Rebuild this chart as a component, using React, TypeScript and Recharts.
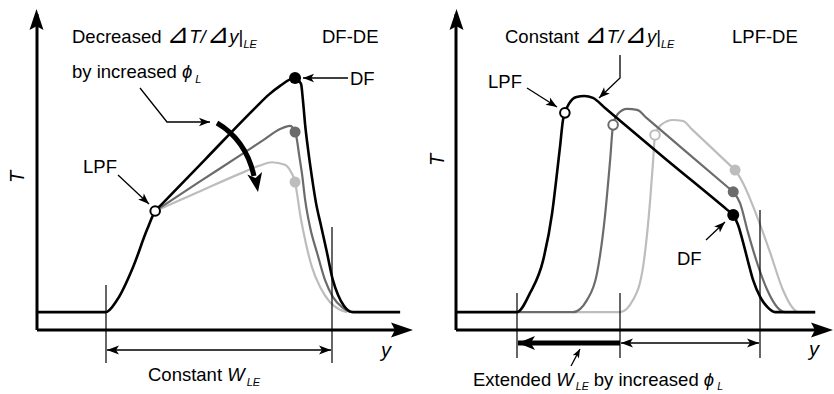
import React from "react";
import { ComposedChart, Line, ReferenceLine, Scatter, XAxis, YAxis } from "recharts";

// T(y) profiles, [y, T] pairs in relative units
const dfBase = [
  [0, 5.5], [18.4, 5.5], [21.4, 9.2], [25.7, 19.4], [29.4, 30.8], [31.6, 36.6],
  [33.2, 38.5], [45.0, 52.5], [58.5, 68.5], [62.0, 72.4], [65.0, 75.1], [69.0, 77.5], [70.6, 75.7],
  [71.1, 70.8], [71.7, 63.1], [72.5, 55.4], [73.5, 47.1], [74.6, 39.1], [75.9, 32.3],
  [77.5, 24.0], [79.1, 15.4], [80.5, 10.8], [82.1, 7.4], [84.5, 5.5], [97.1, 5.5],
];
const dfMid = [
  [31.6, 36.6], [43.6, 45.7], [54.3, 53.7], [61.0, 58.8], [65.0, 61.8], [67.6, 62.8],
  [69.0, 61.2], [69.5, 58.5], [70.1, 53.8], [70.9, 47.7], [71.7, 40.0], [73.0, 31.7],
  [74.9, 23.7], [77.0, 15.4], [79.1, 10.2], [81.8, 6.8], [83.7, 5.5],
];
const dfHigh = [
  [31.6, 36.6], [43.6, 42.7], [54.3, 48.1], [59.6, 50.6], [62.8, 51.6], [66.3, 50.8],
  [67.9, 48.6], [69.0, 45.5], [69.5, 42.2], [70.3, 36.0], [71.7, 27.7], [73.5, 19.4],
  [75.7, 13.2], [78.3, 8.6], [81.0, 6.2], [82.9, 5.5],
];

const lpfBase = [
  [0, 5.5], [16.3, 5.5], [19.8, 11.4], [23.3, 21.5], [25.7, 36.0], [27.0, 48.3],
  [27.8, 56.3], [28.6, 64.6], [29.1, 66.8], [30.3, 69.8], [32.2, 71.7], [34.3, 72.0],
  [36.6, 71.4], [40.0, 68.1], [55.3, 53.3], [72.5, 36.95], [74.1, 35.4], [75.4, 32.3],
  [76.7, 27.1], [78.1, 20.9], [79.4, 15.4], [81.3, 10.2], [83.2, 7.1], [85.3, 5.5], [96.0, 5.5],
];
const lpfMid = [
  [16.3, 5.5], [31.3, 5.5], [35.0, 9.2], [37.7, 17.5], [39.8, 34.8], [41.2, 52.3],
  [42.0, 63.1], [43.3, 66.5], [45.7, 68.0], [48.4, 67.7], [51.0, 65.15], [61.0, 55.35],
  [72.5, 44.07], [74.1, 42.5], [75.9, 39.1], [78.1, 29.8], [80.5, 20.6], [83.2, 12.3],
  [85.8, 7.1], [88.0, 5.5], [96.0, 5.5],
];
const lpfHigh = [
  [31.3, 5.5], [43.9, 5.5], [47.3, 9.2], [50.0, 19.4], [51.9, 40.0], [52.7, 52.3],
  [53.2, 60.0], [54.8, 63.1], [58.0, 64.6], [60.7, 64.3], [63.0, 61.8], [73.0, 50.94],
  [74.6, 49.2], [76.7, 45.2], [80.5, 34.8], [84.0, 23.7], [87.4, 12.3], [89.8, 7.1],
  [91.4, 5.5], [96.0, 5.5],
];

// flame points: [series, y, T]
const dfLpfPoints: [string, number, number][] = [["base", 31.6, 36.6]];
const dfDfPoints: [string, number, number][] = [
  ["high", 69.0, 45.5], ["mid", 69.0, 60.9], ["base", 69.0, 77.5],
];
const lpfLpfPoints: [string, number, number][] = [
  ["high", 53.2, 60.0], ["mid", 42.0, 63.1], ["base", 29.1, 66.8],
];
const lpfDfPoints: [string, number, number][] = [
  ["high", 74.6, 49.2], ["mid", 74.1, 42.5], ["base", 74.1, 35.4],
];

const colors: Record<string, string> = { base: "#000000", mid: "#6b6b6b", high: "#bdbdbd" };
const widths: Record<string, number> = { base: 2.6, mid: 2.2, high: 2.2 };
const FONT = "'Liberation Sans', Arial, sans-serif";

const toRows = (a: number[][]) => a.map(([u, t]) => ({ u, t }));
const toMarks = (a: [string, number, number][]) => a.map(([s, u, t]) => ({ s, u, t }));

const openDot = (p: any) => (
  <circle cx={p.cx} cy={p.cy} r={4.8} fill="#fff" stroke={colors[p.payload.s]} strokeWidth={2} />
);
const fullDot = (p: any) => (
  <circle cx={p.cx} cy={p.cy} r={p.payload.s === "base" ? 6 : 5.5} fill={colors[p.payload.s]} />
);

function Panel(props: {
  series: { key: string; rows: number[][] }[];
  lpf: [string, number, number][];
  df: [string, number, number][];
  margin: { top: number; right: number; bottom: number; left: number };
  xMax: number;
}) {
  return (
    <ComposedChart width={417} height={394} margin={props.margin}>
      <XAxis type="number" dataKey="u" domain={[0, props.xMax]} hide allowDataOverflow />
      <YAxis type="number" dataKey="t" domain={[0, 97.2]} hide allowDataOverflow />
      <ReferenceLine x={0} stroke="#000" strokeWidth={3} />
      <ReferenceLine y={0} stroke="#000" strokeWidth={3} />
      {props.series.map((s) => (
        <Line
          key={s.key}
          data={toRows(s.rows)}
          dataKey="t"
          type="monotone"
          stroke={colors[s.key]}
          strokeWidth={widths[s.key]}
          dot={false}
          activeDot={false}
          isAnimationActive={false}
        />
      ))}
      <Scatter data={toMarks(props.df)} dataKey="t" shape={fullDot} isAnimationActive={false} />
      <Scatter data={toMarks(props.lpf)} dataKey="t" shape={openDot} isAnimationActive={false} />
    </ComposedChart>
  );
}

// stealth arrowhead polygon
function head(x: number, y: number, dx: number, dy: number, len: number, half: number, notch = 0.75) {
  const n = Math.hypot(dx, dy);
  const ux = dx / n, uy = dy / n;
  const px = -uy, py = ux;
  const bx = x - ux * len, by = y - uy * len;
  const nx = x - ux * len * notch, ny = y - uy * len * notch;
  return `${x},${y} ${bx + px * half},${by + py * half} ${nx},${ny} ${bx - px * half},${by - py * half}`;
}

function Arrow(props: { pts: number[][]; w?: number; len?: number; half?: number; both?: boolean }) {
  const { pts, w = 1.3, len = 11, half = 4.2, both } = props;
  const a = pts[pts.length - 2], b = pts[pts.length - 1];
  const line = pts.map((p) => p.join(",")).join(" ");
  return (
    <g>
      <polyline points={line} fill="none" stroke="#000" strokeWidth={w} />
      <polygon points={head(b[0], b[1], b[0] - a[0], b[1] - a[1], len, half)} fill="#000" />
      {both && <polygon points={head(pts[0][0], pts[0][1], pts[0][0] - pts[1][0], pts[0][1] - pts[1][1], len, half)} fill="#000" />}
    </g>
  );
}

const DELTA = { fontFamily: "'DejaVu Sans', sans-serif", fontSize: 27 };

const Grad = ({ x, y, lead }: { x: number; y: number; lead: string }) => (
  <text x={x} y={y} fontSize={18.5} fontFamily={FONT}>
    {lead}
    <tspan {...DELTA}>⊿</tspan>
    <tspan fontStyle="italic">T/</tspan>
    <tspan {...DELTA} dx={1}>⊿</tspan>
    <tspan fontStyle="italic">y</tspan>
    <tspan>|</tspan>
    <tspan fontStyle="italic" fontSize={11} dy={5}>LE</tspan>
  </text>
);

function Notes() {
  return (
    <svg width={834} height={394} style={{ position: "absolute", left: 0, top: 0 }}>
      {/* axis arrowheads */}
      <polygon points={head(36.5, 9, 0, -1, 21, 7, 0.82)} fill="#000" />
      <polygon points={head(413, 330, 1, 0, 22, 7.5, 0.82)} fill="#000" />
      <polygon points={head(456.5, 9, 0, -1, 21, 7, 0.82)} fill="#000" />
      <polygon points={head(833, 330, 1, 0, 22, 7.5, 0.82)} fill="#000" />

      {/* left panel */}
      <text x={0} y={0} transform="translate(24,183) rotate(-90)" fontSize={20} fontStyle="italic" fontFamily={FONT}>T</text>
      <text x={381} y={357} fontSize={20} fontStyle="italic" fontFamily={FONT}>y</text>
      <Grad x={72} y={43} lead="Decreased " />
      <text x={72} y={78} fontSize={18.5} fontFamily={FONT}>
        by increased <tspan fontStyle="italic">ϕ</tspan>
        <tspan fontStyle="italic" fontSize={11} dx={3} dy={5}>L</tspan>
      </text>
      <text x={322} y={43} fontSize={18.5} fontFamily={FONT}>DF-DE</text>
      <text x={350} y={85} fontSize={18.5} fontFamily={FONT}>DF</text>
      <text x={83} y={173} fontSize={18.5} fontFamily={FONT}>LPF</text>
      <Arrow pts={[[348, 78], [303, 78]]} />
      <Arrow pts={[[118, 175], [149, 204]]} />
      <Arrow pts={[[140, 88], [167, 122], [210, 122]]} />
      <path d="M217,123 Q246,140 254,176" fill="none" stroke="#000" strokeWidth={5} />
      <polygon points={head(258, 192, 3, 17, 19, 7.5)} fill="#000" />
      <line x1={106} y1={285} x2={106} y2={363} stroke="#000" strokeWidth={1.2} />
      <line x1={332} y1={227} x2={332} y2={363} stroke="#000" strokeWidth={1.2} />
      <Arrow pts={[[107, 350], [331, 350]]} both len={12} half={4.5} />
      <text x={148} y={381} fontSize={18.5} fontFamily={FONT}>
        Constant <tspan fontStyle="italic">W</tspan>
        <tspan fontStyle="italic" fontSize={11} dx={2} dy={5}>LE</tspan>
      </text>

      {/* right panel */}
      <text x={0} y={0} transform="translate(444,166) rotate(-90)" fontSize={20} fontStyle="italic" fontFamily={FONT}>T</text>
      <text x={809} y={356} fontSize={20} fontStyle="italic" fontFamily={FONT}>y</text>
      <Grad x={505} y={43} lead="Constant " />
      <text x={732} y={43} fontSize={18.5} fontFamily={FONT}>LPF-DE</text>
      <text x={488} y={88} fontSize={18.5} fontFamily={FONT}>LPF</text>
      <text x={677} y={265} fontSize={18.5} fontFamily={FONT}>DF</text>
      <Arrow pts={[[527, 88], [557, 107]]} />
      <Arrow pts={[[620, 55], [620, 78], [599, 98]]} />
      <Arrow pts={[[706, 240], [725, 222]]} />
      <line x1={517} y1={293} x2={517} y2={358} stroke="#000" strokeWidth={1.2} />
      <line x1={620} y1={293} x2={620} y2={358} stroke="#000" strokeWidth={1.2} />
      <line x1={760} y1={210} x2={760} y2={358} stroke="#000" strokeWidth={1.2} />
      <Arrow pts={[[620, 343], [518, 343]]} w={5} len={17} half={7} />
      <Arrow pts={[[621, 343], [759, 343]]} both len={12} half={4.5} />
      <Arrow pts={[[571, 366], [580, 349]]} len={9} half={3.5} />
      <text x={473} y={386} fontSize={18.5} fontFamily={FONT}>
        Extended <tspan fontStyle="italic">W</tspan>
        <tspan fontStyle="italic" fontSize={10.5} dx={2} dy={4}>LE</tspan>
        <tspan dy={-4}> by increased </tspan>
        <tspan fontStyle="italic">ϕ</tspan>
        <tspan fontStyle="italic" fontSize={10.5} dx={3} dy={4}>L</tspan>
      </text>
    </svg>
  );
}

export default function App() {
  return (
    <div style={{ position: "absolute", left: 0, top: 0, width: 834, height: 394, background: "#fff", overflow: "hidden" }}>
      <div style={{ position: "absolute", left: 0, top: 0 }}>
        <Panel
          series={[
            { key: "high", rows: dfHigh },
            { key: "mid", rows: dfMid },
            { key: "base", rows: dfBase },
          ]}
          lpf={dfLpfPoints}
          df={dfDfPoints}
          margin={{ top: 14, right: 12, bottom: 64, left: 37 }}
          xMax={98.4}
        />
      </div>
      <div style={{ position: "absolute", left: 417, top: 0 }}>
        <Panel
          series={[
            { key: "high", rows: lpfHigh },
            { key: "mid", rows: lpfMid },
            { key: "base", rows: lpfBase },
          ]}
          lpf={lpfLpfPoints}
          df={lpfDfPoints}
          margin={{ top: 14, right: 8, bottom: 64, left: 39 }}
          xMax={98.9}
        />
      </div>
      <Notes />
    </div>
  );
}
